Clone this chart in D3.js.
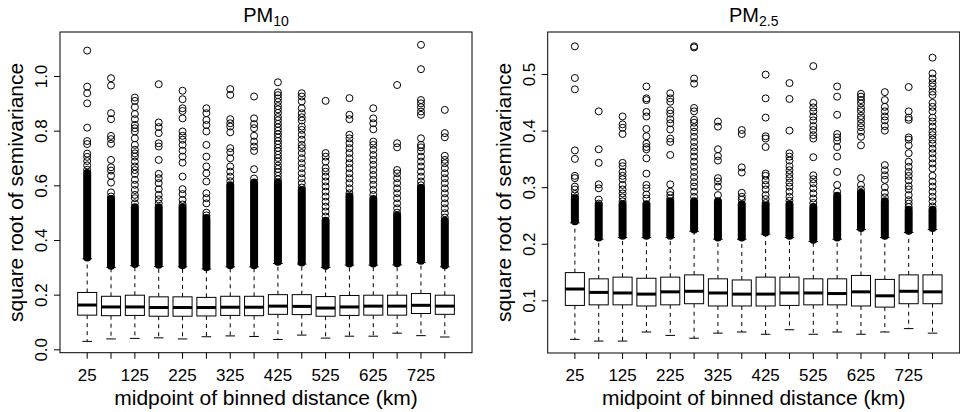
<!DOCTYPE html>
<html><head><meta charset="utf-8">
<script src="https://cdn.jsdelivr.net/npm/d3@7"></script>
<style>
body{margin:0;background:#fff}
svg{display:block}
text{font-family:"Liberation Sans",Arial,Helvetica,sans-serif;fill:#000}
</style>
</head><body>
<svg id="chart" width="960" height="412"></svg>
<script>
// ---------- data ----------
const categories = [25,75,125,175,225,275,325,375,425,475,525,575,625,675,725,775];
const xTickLabels = ["25","125","225","325","425","525","625","725"];
const pm10Ticks = [0.0,0.2,0.4,0.6,0.8,1.0];
const pm25Ticks = [0.1,0.2,0.3,0.4,0.5];

// PM10 box statistics
const pm10Low    = [0.029,0.038,0.040,0.042,0.038,0.046,0.049,0.047,0.036,0.052,0.041,0.048,0.048,0.059,0.050,0.045];
const pm10Q1     = [0.125,0.123,0.124,0.121,0.121,0.122,0.124,0.123,0.128,0.127,0.121,0.124,0.125,0.125,0.131,0.128];
const pm10Median = [0.162,0.155,0.155,0.153,0.153,0.153,0.154,0.154,0.158,0.157,0.151,0.155,0.158,0.158,0.161,0.158];
const pm10Q3     = [0.208,0.194,0.198,0.192,0.192,0.190,0.194,0.194,0.200,0.200,0.193,0.197,0.198,0.198,0.204,0.198];
const pm10High   = [0.331,0.300,0.306,0.303,0.302,0.294,0.302,0.302,0.314,0.312,0.300,0.308,0.308,0.309,0.318,0.302];
// dense run of outliers (from .. to)
const pm10DenseLow  = [0.336,0.306,0.312,0.309,0.308,0.300,0.308,0.308,0.320,0.318,0.306,0.314,0.314,0.315,0.324,0.308];
const pm10DenseHigh = [0.645,0.550,0.520,0.520,0.520,0.480,0.600,0.610,0.610,0.583,0.470,0.560,0.550,0.490,0.590,0.470];
// individual outliers above the dense run
const pm10Outliers = [
  [1.093,0.961,0.937,0.900,0.811,0.762,0.751,0.716,0.704,0.689,0.673,0.657],
  [0.992,0.965,0.864,0.842,0.781,0.769,0.752,0.693,0.666,0.654,0.635,0.610,0.574,0.559],
  [0.921,0.909,0.886,0.861,0.842,0.821,0.809,0.797,0.772,0.748,0.730,0.717,0.705,0.687,0.669,0.656,0.642,0.620,0.602,0.583,0.565,0.553,0.534],
  [0.970,0.830,0.813,0.791,0.754,0.742,0.693,0.642,0.626,0.608,0.586,0.565,0.549,0.534],
  [0.946,0.915,0.882,0.872,0.845,0.797,0.781,0.767,0.748,0.727,0.705,0.683,0.632,0.586,0.568,0.547,0.530],
  [0.882,0.864,0.839,0.821,0.797,0.748,0.705,0.669,0.644,0.614,0.571,0.553,0.534,0.500,0.490],
  [0.952,0.931,0.842,0.827,0.815,0.794,0.736,0.721,0.699,0.669,0.650,0.632,0.615],
  [0.925,0.845,0.824,0.809,0.781,0.760,0.742,0.726,0.659,0.625],
  [0.977,0.940,0.930,0.918,0.905,0.890,0.878,0.865,0.850,0.838,0.825,0.812,0.800,0.787,0.775,0.762,0.750,0.737,0.725,0.712,0.700,0.687,0.672,0.660,0.648,0.635,0.622],
  [0.937,0.925,0.907,0.882,0.864,0.849,0.837,0.815,0.803,0.785,0.767,0.748,0.736,0.718,0.699,0.681,0.663,0.644,0.626,0.608,0.592],
  [0.909,0.718,0.705,0.687,0.663,0.650,0.632,0.614,0.596,0.577,0.559,0.540,0.522,0.504,0.486],
  [0.919,0.858,0.842,0.785,0.772,0.754,0.736,0.718,0.699,0.681,0.663,0.644,0.626,0.608,0.589,0.571],
  [0.882,0.845,0.827,0.805,0.760,0.748,0.730,0.711,0.693,0.675,0.656,0.638,0.620,0.602,0.583,0.565],
  [0.967,0.754,0.739,0.656,0.644,0.626,0.608,0.589,0.571,0.553,0.534,0.516,0.500],
  [1.114,1.025,0.912,0.900,0.886,0.870,0.858,0.772,0.748,0.739,0.724,0.705,0.687,0.669,0.650,0.632,0.614,0.600],
  [0.876,0.791,0.776,0.708,0.693,0.681,0.663,0.644,0.626,0.608,0.589,0.571,0.553,0.534,0.516,0.498,0.482]
];

// PM2.5 box statistics
const pm25Low    = [0.031,0.028,0.028,0.044,0.038,0.033,0.042,0.044,0.040,0.048,0.040,0.044,0.040,0.044,0.050,0.042];
const pm25Q1     = [0.091,0.092,0.092,0.090,0.092,0.094,0.090,0.090,0.090,0.091,0.092,0.092,0.090,0.088,0.094,0.094];
const pm25Median = [0.120,0.114,0.113,0.111,0.115,0.116,0.113,0.111,0.111,0.113,0.113,0.112,0.115,0.108,0.116,0.115];
const pm25Q3     = [0.149,0.138,0.141,0.139,0.141,0.145,0.138,0.136,0.141,0.141,0.138,0.138,0.144,0.137,0.145,0.145];
const pm25High   = [0.237,0.208,0.211,0.211,0.211,0.222,0.208,0.208,0.217,0.211,0.204,0.208,0.225,0.211,0.220,0.225];
const pm25DenseLow  = [0.240,0.211,0.214,0.214,0.214,0.225,0.211,0.211,0.220,0.214,0.207,0.211,0.228,0.214,0.223,0.228];
const pm25DenseHigh = [0.280,0.268,0.270,0.270,0.275,0.275,0.275,0.270,0.268,0.270,0.265,0.285,0.290,0.275,0.260,0.260];
const pm25Outliers = [
  [0.549,0.493,0.473,0.365,0.350,0.320,0.316,0.301,0.296,0.288,0.282],
  [0.434,0.367,0.343,0.305,0.298,0.278,0.271],
  [0.425,0.411,0.405,0.394,0.343,0.337,0.327,0.320,0.314,0.304,0.296,0.289,0.282,0.275],
  [0.478,0.457,0.454,0.433,0.425,0.403,0.390,0.377,0.371,0.367,0.351,0.324,0.304,0.298,0.287,0.280],
  [0.466,0.457,0.451,0.436,0.430,0.420,0.413,0.402,0.386,0.380,0.357,0.305,0.292,0.286,0.280],
  [0.549,0.547,0.492,0.483,0.440,0.434,0.419,0.414,0.406,0.398,0.389,0.380,0.371,0.363,0.354,0.345,0.336,0.327,0.318,0.309,0.301,0.292,0.283],
  [0.416,0.407,0.367,0.355,0.347,0.316,0.310,0.301,0.286],
  [0.401,0.394,0.335,0.326,0.290,0.283,0.278],
  [0.499,0.457,0.423,0.390,0.386,0.371,0.324,0.320,0.312,0.304,0.296,0.286,0.279,0.272],
  [0.484,0.456,0.400,0.360,0.354,0.347,0.337,0.330,0.323,0.316,0.308,0.301,0.292,0.283,0.276],
  [0.514,0.449,0.441,0.434,0.425,0.418,0.408,0.401,0.392,0.386,0.353,0.321,0.314,0.307,0.298,0.289,0.280,0.272],
  [0.478,0.460,0.428,0.394,0.388,0.382,0.371,0.354,0.327,0.304,0.292],
  [0.465,0.460,0.454,0.448,0.440,0.434,0.426,0.420,0.413,0.406,0.398,0.389,0.374,0.316,0.304,0.296],
  [0.468,0.454,0.442,0.434,0.425,0.418,0.408,0.400,0.339,0.330,0.321,0.313,0.300,0.290,0.282],
  [0.477,0.434,0.423,0.419,0.388,0.384,0.374,0.360,0.345,0.336,0.327,0.320,0.312,0.302,0.296,0.286,0.277,0.271,0.265],
  [0.529,0.501,0.492,0.484,0.478,0.469,0.463,0.449,0.442,0.434,0.423,0.416,0.407,0.398,0.392,0.384,0.377,0.368,0.360,0.351,0.342,0.333,0.320,0.310,0.301,0.292,0.283,0.275,0.266]
];

// ---------- drawing ----------
const svg = d3.select("#chart");
const R = 3.5, SW = 1;

function drawPanel(p) {
  const g = svg.append("g");
  const u = (p.right - p.left) / 17.28;
  const x = d3.scaleBand().domain(categories)
      .range([p.left + 0.64 * u, p.right - 0.64 * u])
      .paddingInner(0.2).paddingOuter(0.1);
  const y = d3.scaleLinear().domain(p.yDomain).range([p.bottom, p.top]);
  const bw = x.bandwidth();
  const cx = c => x(c) + bw / 2;

  const rows = categories.map((c, i) => ({
    c, low: p.low[i], q1: p.q1[i], med: p.med[i], q3: p.q3[i], high: p.high[i],
    dLo: p.dLo[i], dHi: p.dHi[i], out: p.out[i]
  }));

  const box = g.selectAll("g.box").data(rows).join("g").attr("class", "box");
  // whiskers
  box.append("line").attr("x1", d => cx(d.c)).attr("x2", d => cx(d.c))
     .attr("y1", d => y(d.q1)).attr("y2", d => y(d.low))
     .attr("stroke", "#000").attr("stroke-width", 1).attr("stroke-dasharray", "4,4");
  box.append("line").attr("x1", d => cx(d.c)).attr("x2", d => cx(d.c))
     .attr("y1", d => y(d.q3)).attr("y2", d => y(d.high))
     .attr("stroke", "#000").attr("stroke-width", 1).attr("stroke-dasharray", "4,4");
  // staples
  box.append("line").attr("x1", d => cx(d.c) - bw / 4).attr("x2", d => cx(d.c) + bw / 4)
     .attr("y1", d => y(d.low)).attr("y2", d => y(d.low)).attr("stroke", "#000").attr("stroke-width", 1);
  box.append("line").attr("x1", d => cx(d.c) - bw / 4).attr("x2", d => cx(d.c) + bw / 4)
     .attr("y1", d => y(d.high)).attr("y2", d => y(d.high)).attr("stroke", "#000").attr("stroke-width", 1);
  // box
  box.append("rect").attr("x", d => x(d.c)).attr("width", bw)
     .attr("y", d => y(d.q3)).attr("height", d => y(d.q1) - y(d.q3))
     .attr("fill", "#fff").attr("stroke", "#000").attr("stroke-width", 1);
  // median
  box.append("line").attr("x1", d => x(d.c)).attr("x2", d => x(d.c) + bw)
     .attr("y1", d => y(d.med)).attr("y2", d => y(d.med))
     .attr("stroke", "#000").attr("stroke-width", 3);
  // dense outlier run
  const hw = R + SW / 2;
  box.append("rect").attr("x", d => cx(d.c) - hw).attr("width", 2 * hw)
     .attr("y", d => y(d.dHi) - hw).attr("height", d => y(d.dLo) - y(d.dHi) + 2 * hw)
     .attr("rx", hw).attr("ry", hw).attr("fill", "#000");
  // individual outliers
  box.selectAll("circle").data(d => d.out.map(v => ({c: d.c, v}))).join("circle")
     .attr("cx", d => cx(d.c)).attr("cy", d => y(d.v)).attr("r", R)
     .attr("fill", "none").attr("stroke", "#000").attr("stroke-width", SW);

  // frame
  g.append("rect").attr("x", p.left).attr("y", p.top)
   .attr("width", p.right - p.left).attr("height", p.bottom - p.top)
   .attr("fill", "none").attr("stroke", "#000").attr("stroke-width", 1);

  // x axis
  const xa = g.append("g").attr("transform", `translate(0,${p.bottom})`)
    .call(d3.axisBottom(x).tickSize(6).tickPadding(10.2)
      .tickFormat(d => xTickLabels.includes(String(d)) ? String(d) : ""));
  xa.select(".domain").remove();
  xa.attr("font-family", null);
  xa.selectAll("text").attr("font-size", 17);

  // y axis
  const ya = g.append("g").attr("transform", `translate(${p.left},0)`)
    .call(d3.axisLeft(y).tickValues(p.ticks).tickSize(6).tickFormat(d3.format(".1f")));
  ya.select(".domain").remove();
  ya.attr("font-family", null);
  ya.selectAll("text").attr("font-size", 17).attr("x", null).attr("dy", null)
    .attr("text-anchor", "middle").attr("transform", "translate(-13,0) rotate(-90)");

  // axis titles
  g.append("text").attr("x", (p.left + p.right) / 2).attr("y", 405)
   .attr("text-anchor", "middle").attr("font-size", 21).text("midpoint of binned distance (km)");
  g.append("text").attr("transform", `translate(${p.left - 37},${(p.top + p.bottom) / 2}) rotate(-90)`)
   .attr("text-anchor", "middle").attr("font-size", 21).text("square root of semivariance");

  // title with subscript
  const t = g.append("text").attr("x", (p.left + p.right) / 2).attr("y", 22)
   .attr("text-anchor", "middle").attr("font-size", 20);
  t.append("tspan").text("PM");
  t.append("tspan").attr("font-size", 14).attr("dy", 4).text(p.sub);
}

drawPanel({left: 60, right: 472, top: 32, bottom: 352.7, yDomain: [-0.0124, 1.161], ticks: pm10Ticks,
  low: pm10Low, q1: pm10Q1, med: pm10Median, q3: pm10Q3, high: pm10High,
  dLo: pm10DenseLow, dHi: pm10DenseHigh, out: pm10Outliers, sub: "10"});
drawPanel({left: 547.7, right: 959.7, top: 32, bottom: 353, yDomain: [0.0069, 0.5743], ticks: pm25Ticks,
  low: pm25Low, q1: pm25Q1, med: pm25Median, q3: pm25Q3, high: pm25High,
  dLo: pm25DenseLow, dHi: pm25DenseHigh, out: pm25Outliers, sub: "2.5"});
</script>
</body></html>
